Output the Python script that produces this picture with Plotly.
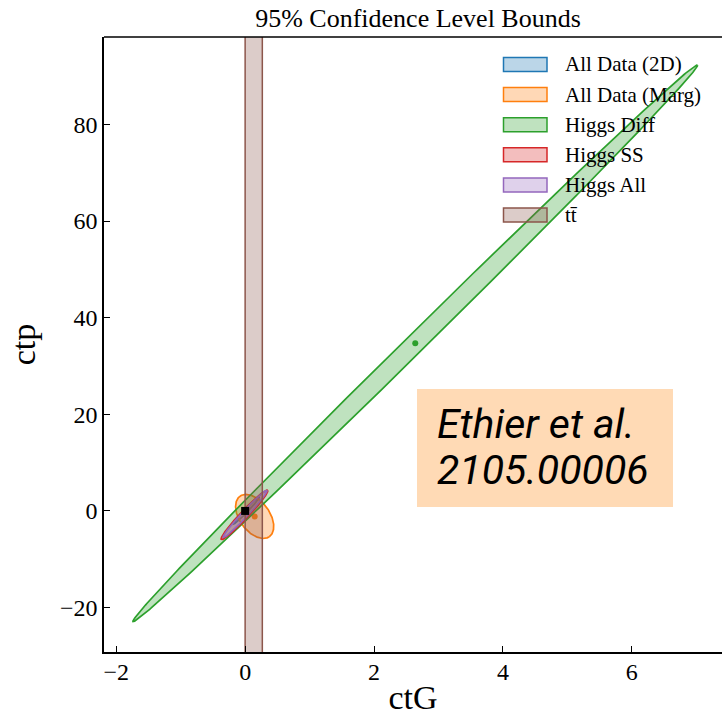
import numpy as np
import plotly.graph_objects as go

# ---------------- data ----------------
names = ["All Data (2D)", "All Data (Marg)", "Higgs Diff", "Higgs SS", "Higgs All"]
colors = ["#1f77b4", "#ff7f0e", "#2ca02c", "#d62728", "#9467bd"]
fills = ["rgba(31,119,180,0.3)", "rgba(255,127,14,0.3)", "rgba(44,160,44,0.3)",
         "rgba(214,39,40,0.3)", "rgba(148,103,189,0.3)"]
# ellipse centres (ctG, ctp)
center_ctG = [0.02, 0.148, 2.64, -0.01, 0.0]
center_ctp = [0.1, -1.14, 34.7, -0.8, -0.6]
# first half-axis vector (ctG, ctp)
a_ctG = [0.2, 0.229, 4.38, 0.36, 0.34]
a_ctp = [2.8, -4.18, 57.6, 5.1, 4.9]
# second half-axis vector (ctG, ctp)
b_ctG = [0.02, 0.188, 0.103, 0.044, 0.033]
b_ctp = [-0.25, 1.83, -1.38, -0.58, -0.44]
show_center = [False, True, True, False, False]

ttbar_name = "t\u0074\u0304"
ttbar_bounds = [0.0, 0.267]
ttbar_color = "#8c564b"
ttbar_fill = "rgba(140,86,75,0.3)"

sm_point = [0.0, 0.0]

x_range = [-2.19, 7.40]
y_range = [-29.2, 98.1]
x_ticks = [-2, 0, 2, 4, 6]
y_ticks = [-20, 0, 20, 40, 60, 80]

title = "95% Confidence Level Bounds"
x_title = "ctG"
y_title = "ctp"
note_lines = ["Ethier et al.", "2105.00006"]

# ---------------- figure ----------------
serif = "Liberation Serif, Times New Roman, serif"
fig = go.Figure()
t = np.linspace(0, 2 * np.pi, 400)
for i, nm in enumerate(names):
    xs = center_ctG[i] + a_ctG[i] * np.cos(t) + b_ctG[i] * np.sin(t)
    ys = center_ctp[i] + a_ctp[i] * np.cos(t) + b_ctp[i] * np.sin(t)
    fig.add_trace(go.Scatter(x=xs, y=ys, mode="lines", fill="toself",
                             fillcolor=fills[i], line=dict(color=colors[i], width=1.7),
                             name=nm, showlegend=False, hoverinfo="skip"))
    if show_center[i]:
        fig.add_trace(go.Scatter(x=[center_ctG[i]], y=[center_ctp[i]], mode="markers",
                                 marker=dict(color=colors[i], size=6), showlegend=False,
                                 hoverinfo="skip"))

big = 1000
fig.add_trace(go.Scatter(
    x=[ttbar_bounds[0], ttbar_bounds[1], ttbar_bounds[1], ttbar_bounds[0], ttbar_bounds[0]],
    y=[-big, -big, big, big, -big], mode="lines", fill="toself", fillcolor=ttbar_fill,
    line=dict(color=ttbar_color, width=1.5), name=ttbar_name, showlegend=False,
    hoverinfo="skip"))

fig.add_trace(go.Scatter(x=[sm_point[0]], y=[sm_point[1]], mode="markers",
                         marker=dict(color="black", size=8, symbol="square"),
                         showlegend=False, hoverinfo="skip"))

# ---- legend (patches like matplotlib) ----
H = 716 - 37 - 64
W = 722 - 104
leg_names = names + [ttbar_name]
leg_colors = colors + [ttbar_color]
leg_fills = fills + [ttbar_fill]
for k, (nm, c, f) in enumerate(zip(leg_names, leg_colors, leg_fills)):
    yc = 64.5 + 30.1 * k
    yp = (716 - 64 - yc) / H
    fig.add_shape(type="rect", xref="paper", yref="paper",
                  x0=(503.5 - 104) / W, x1=(547 - 104) / W,
                  y0=yp - 7 / H, y1=yp + 7 / H,
                  fillcolor=f, line=dict(color=c, width=1.5), layer="above")
    fig.add_annotation(text=nm, xref="paper", yref="paper", x=(563 - 104) / W, y=yp,
                       xanchor="left", yanchor="middle", showarrow=False,
                       font=dict(family=serif, size=21, color="black"))

# note box
fig.add_shape(type="rect", xref="paper", yref="paper", x0=(417 - 104) / W, x1=(673 - 104) / W,
              y0=(652 - 507) / H, y1=(652 - 389) / H, fillcolor="#ffdab5",
              line=dict(width=0), layer="above")
for line, yy in zip(note_lines, [424, 470]):
    fig.add_annotation(text=f"<i>{line}</i>", xref="paper", yref="paper",
                       x=(435 - 104) / W, y=(652 - yy) / H,
                       xanchor="left", yanchor="middle", showarrow=False,
                       font=dict(family="Roboto", size=41, color="black"))

# top spine
fig.add_shape(type="line", xref="paper", yref="paper", x0=0, x1=1, y0=1, y1=1,
              line=dict(color="black", width=1.5))

def lab(v):
    return ("\u2212" + str(-v)) if v < 0 else str(v)

fig.update_layout(
    width=722, height=716,
    margin=dict(l=104, r=0, t=37, b=64),
    paper_bgcolor="white", plot_bgcolor="white",
    title=dict(text=title, x=418 / 722, xanchor="center", y=1 - 18 / 716, yanchor="middle",
               font=dict(family=serif, size=26, color="black")),
    showlegend=False,
    xaxis=dict(range=x_range, tickvals=x_ticks, ticktext=[lab(v) for v in x_ticks],
               showgrid=False, zeroline=False, showline=True, linecolor="black", linewidth=1.5,
               ticks="inside", ticklen=6, tickcolor="black", ticklabelstandoff=-3,
               tickfont=dict(family=serif, size=24, color="black"),
               title=dict(text=x_title, font=dict(family=serif, size=34, color="black"), standoff=2)),
    yaxis=dict(range=y_range, tickvals=y_ticks, ticktext=[lab(v) for v in y_ticks],
               showgrid=False, zeroline=False, showline=True, linecolor="black", linewidth=1.5,
               ticks="inside", ticklen=6, tickcolor="black",
               tickfont=dict(family=serif, size=24, color="black"),
               title=dict(text=y_title, font=dict(family=serif, size=34, color="black"), standoff=14)),
)

fig.write_html("out.html")
